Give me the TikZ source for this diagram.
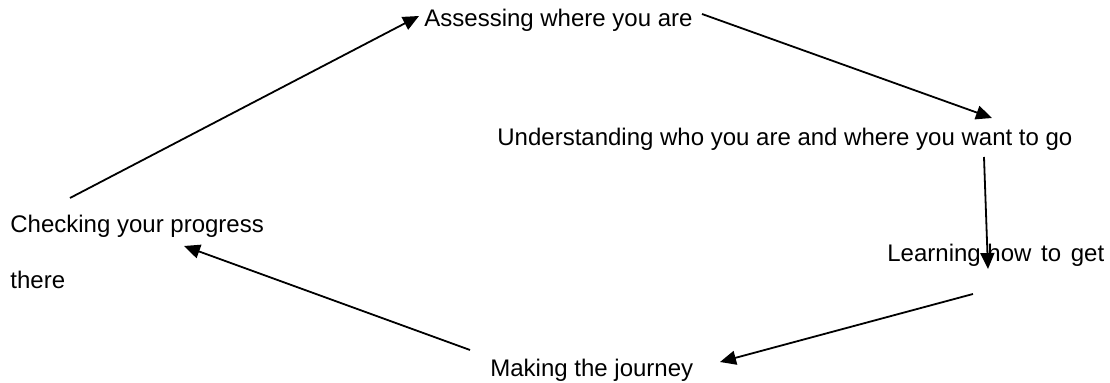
\documentclass[tikz,border=0pt]{standalone}
\usepackage{fontspec}
\setmainfont{Liberation Sans}
\usetikzlibrary{arrows.meta}
\tikzset{
    stage/.style={anchor=base west, inner sep=0pt, font=\fontsize{12}{14}\selectfont},
    arrow/.style={-{Triangle[length=8pt, width=7pt]}, line width=0.9pt}
}

\begin{document}
\begin{tikzpicture}[x=0.5pt, y=-0.5pt]
        \useasboundingbox (0,0) rectangle (1110,383);

        % Stages of the cycle
        \node[stage] (assess) at (424,27) {Assessing where you are};
        \node[stage] (understand) at (497,146) {Understanding who you are and where you want to go};
        \node[stage] (learn) at (887,262) {Learning how\hspace{1.5pt} to\hspace{1.5pt} get};
        \node[stage] (journey) at (490,377) {Making the journey};
        \node[stage] (check) at (10,233) {Checking your progress};
        \node[stage] (there) at (10,289) {there};

        % Free ends of the connectors
        \coordinate (checkOut) at (70,198);
        \coordinate (assessIn) at (419,16);
        \coordinate (assessOut) at (702,14);
        \coordinate (understandIn) at (992,118);
        \coordinate (understandOut) at (984,157);
        \coordinate (learnIn) at (988,269);
        \coordinate (learnOut) at (973,294);
        \coordinate (journeyIn) at (720,362);
        \coordinate (journeyOut) at (470,350);
        \coordinate (checkIn) at (184,246);

        % Connectors
        \draw[arrow] (checkOut) -- (assessIn);
        \draw[arrow] (assessOut) -- (understandIn);
        \draw[arrow] (understandOut) -- (learnIn);
        \draw[arrow] (learnOut) -- (journeyIn);
        \draw[arrow] (journeyOut) -- (checkIn);
\end{tikzpicture}
\end{document}
